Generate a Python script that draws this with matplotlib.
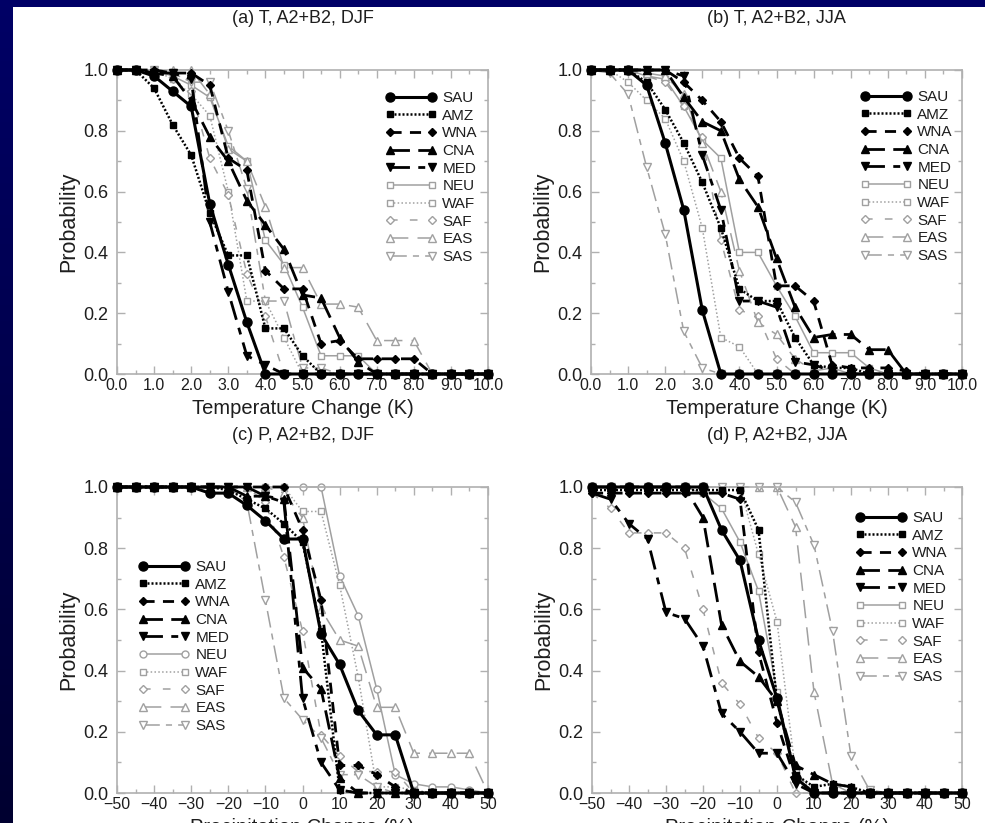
import numpy as np
import matplotlib
matplotlib.use("Agg")
import matplotlib.pyplot as plt
from matplotlib.ticker import MultipleLocator, FuncFormatter
from matplotlib.colors import LinearSegmentedColormap

plt.rcParams['font.family'] = ['Liberation Sans', 'DejaVu Sans']

regions = ["SAU", "AMZ", "WNA", "CNA", "MED", "NEU", "WAF", "SAF", "EAS", "SAS"]

temp_x = np.arange(0, 10.01, 0.5)
precip_x = np.arange(-50, 50.01, 5)

# (a) temperature, DJF
t_djf_SAU = [1, 1, 0.98, 0.93, 0.88, 0.56, 0.36, 0.17, 0, 0, 0, 0, 0, 0, 0, 0, 0, 0, 0, 0, 0]
t_djf_AMZ = [1, 1, 0.94, 0.82, 0.72, 0.53, 0.39, 0.39, 0.15, 0.15, 0.06, 0, 0, 0, 0, 0, 0, 0, 0, 0, 0]
t_djf_WNA = [1, 1, 1, 0.99, 0.99, 0.95, 0.71, 0.67, 0.34, 0.28, 0.28, 0.10, 0.11, 0.05, 0.05, 0.05, 0.05, 0, 0, 0, 0]
t_djf_CNA = [1, 1, 0.99, 0.98, 0.90, 0.78, 0.70, 0.57, 0.49, 0.41, 0.26, 0.25, 0.12, 0.04, 0, 0, 0, 0, 0, 0, 0]
t_djf_MED = [1, 1, 0.99, 0.99, 0.97, 0.50, 0.27, 0.06, 0.03, 0, 0, 0, 0, 0, 0, 0, 0, 0, 0, 0, 0]
t_djf_NEU = [1, 1, 1, 0.98, 0.95, 0.91, 0.75, 0.70, 0.44, 0.36, 0.22, 0.06, 0.06, 0.06, 0, 0, 0, 0, 0, 0, 0]
t_djf_WAF = [1, 1, 1, 0.97, 0.92, 0.85, 0.60, 0.24, 0.24, 0.12, 0, 0, 0, 0, 0, 0, 0, 0, 0, 0, 0]
t_djf_SAF = [1, 1, 1, 0.97, 0.93, 0.71, 0.59, 0.33, 0.19, 0, 0, 0, 0, 0, 0, 0, 0, 0, 0, 0, 0]
t_djf_EAS = [1, 1, 1, 1, 1, 0.92, 0.74, 0.70, 0.55, 0.35, 0.35, 0.23, 0.23, 0.22, 0.11, 0.11, 0.11, 0, 0, 0, 0]
t_djf_SAS = [1, 1, 1, 0.99, 0.96, 0.96, 0.80, 0.61, 0.24, 0.24, 0.02, 0.02, 0, 0, 0, 0, 0, 0, 0, 0, 0]

# (b) temperature, JJA
t_jja_SAU = [1, 1, 1, 0.95, 0.76, 0.54, 0.21, 0, 0, 0, 0, 0, 0, 0, 0, 0, 0, 0, 0, 0, 0]
t_jja_AMZ = [1, 1, 1, 0.96, 0.87, 0.76, 0.63, 0.48, 0.28, 0.24, 0.24, 0.12, 0.03, 0.02, 0.02, 0, 0, 0, 0, 0, 0]
t_jja_WNA = [1, 1, 1, 1, 1, 0.96, 0.90, 0.83, 0.71, 0.65, 0.29, 0.29, 0.24, 0.03, 0.02, 0.02, 0.02, 0.01, 0, 0, 0]
t_jja_CNA = [1, 1, 1, 1, 1, 0.91, 0.83, 0.80, 0.64, 0.55, 0.38, 0.22, 0.12, 0.13, 0.13, 0.08, 0.08, 0, 0, 0, 0]
t_jja_MED = [1, 1, 1, 1, 1, 0.98, 0.72, 0.54, 0.24, 0.24, 0.22, 0.04, 0.03, 0.01, 0, 0, 0, 0, 0, 0, 0]
t_jja_NEU = [1, 1, 1, 0.98, 0.97, 0.88, 0.77, 0.71, 0.40, 0.40, 0.29, 0.19, 0.07, 0.07, 0.07, 0.02, 0, 0, 0, 0, 0]
t_jja_WAF = [1, 1, 0.96, 0.90, 0.84, 0.70, 0.48, 0.12, 0.09, 0, 0, 0, 0, 0, 0, 0, 0, 0, 0, 0, 0]
t_jja_SAF = [1, 1, 1, 0.98, 0.96, 0.88, 0.78, 0.44, 0.21, 0.19, 0.05, 0, 0, 0, 0, 0, 0, 0, 0, 0, 0]
t_jja_EAS = [1, 1, 1, 0.99, 0.98, 0.92, 0.76, 0.60, 0.34, 0.17, 0.13, 0.05, 0.01, 0.02, 0, 0, 0, 0, 0, 0, 0]
t_jja_SAS = [1, 0.99, 0.92, 0.68, 0.46, 0.14, 0.02, 0, 0, 0, 0, 0, 0, 0, 0, 0, 0, 0, 0, 0, 0]

# (c) precipitation, DJF
p_djf_SAU = [1, 1, 1, 1, 1, 0.98, 0.98, 0.94, 0.89, 0.83, 0.83, 0.52, 0.42, 0.27, 0.19, 0.19, 0, 0, 0, 0, 0]
p_djf_AMZ = [1, 1, 1, 1, 1, 1, 0.99, 0.96, 0.93, 0.88, 0.82, 0.53, 0.01, 0, 0, 0, 0, 0, 0, 0, 0]
p_djf_WNA = [1, 1, 1, 1, 1, 1, 1, 1, 1, 1, 0.86, 0.63, 0.09, 0.09, 0.06, 0.02, 0, 0, 0, 0, 0]
p_djf_CNA = [1, 1, 1, 1, 1, 1, 1, 0.97, 0.97, 0.96, 0.41, 0.34, 0.05, 0, 0, 0, 0, 0, 0, 0, 0]
p_djf_MED = [1, 1, 1, 1, 1, 1, 1, 1, 0.97, 0.95, 0.31, 0.10, 0.01, 0, 0, 0, 0, 0, 0, 0, 0]
p_djf_NEU = [1, 1, 1, 1, 1, 1, 1, 1, 1, 1, 1, 1, 0.71, 0.58, 0.34, 0.06, 0.03, 0.02, 0.02, 0.01, 0]
p_djf_WAF = [1, 1, 1, 1, 1, 1, 1, 1, 1, 1, 0.92, 0.92, 0.68, 0.38, 0.02, 0.02, 0.01, 0, 0, 0, 0]
p_djf_SAF = [1, 1, 1, 1, 1, 1, 1, 1, 0.95, 0.77, 0.53, 0.19, 0.12, 0.07, 0.07, 0.07, 0, 0, 0, 0, 0]
p_djf_EAS = [1, 1, 1, 1, 1, 1, 1, 1, 1, 0.98, 0.90, 0.60, 0.50, 0.48, 0.28, 0.28, 0.13, 0.13, 0.13, 0.13, 0]
p_djf_SAS = [1, 1, 1, 1, 1, 1, 1, 0.95, 0.63, 0.31, 0.24, 0.18, 0.06, 0.06, 0.02, 0, 0, 0, 0, 0, 0]

# (d) precipitation, JJA
p_jja_SAU = [1, 1, 1, 1, 1, 1, 1, 0.86, 0.76, 0.50, 0.31, 0.05, 0, 0, 0, 0, 0, 0, 0, 0, 0]
p_jja_AMZ = [0.99, 0.99, 0.99, 0.99, 0.99, 0.99, 0.99, 0.99, 0.99, 0.86, 0.30, 0.06, 0.02, 0.03, 0.02, 0, 0, 0, 0, 0, 0]
p_jja_WNA = [0.98, 0.98, 0.98, 0.98, 0.98, 0.98, 0.98, 0.98, 0.96, 0.46, 0.23, 0.04, 0, 0, 0, 0, 0, 0, 0, 0, 0]
p_jja_CNA = [1, 1, 1, 1, 1, 1, 0.90, 0.55, 0.43, 0.38, 0.30, 0.09, 0.06, 0.03, 0.02, 0, 0, 0, 0, 0, 0]
p_jja_MED = [0.98, 0.96, 0.88, 0.83, 0.59, 0.57, 0.48, 0.26, 0.20, 0.13, 0.13, 0.03, 0, 0, 0, 0, 0, 0, 0, 0, 0]
p_jja_NEU = [1, 1, 1, 1, 1, 1, 0.98, 0.93, 0.82, 0.66, 0.33, 0.05, 0, 0, 0, 0, 0, 0, 0, 0, 0]
p_jja_WAF = [1, 1, 1, 1, 1, 1, 1, 1, 1, 0.78, 0.56, 0.07, 0, 0, 0, 0, 0, 0, 0, 0, 0]
p_jja_SAF = [0.98, 0.93, 0.85, 0.85, 0.85, 0.80, 0.60, 0.36, 0.29, 0.18, 0.13, 0, 0, 0, 0, 0, 0, 0, 0, 0, 0]
p_jja_EAS = [1, 1, 1, 1, 1, 1, 1, 1, 1, 1, 1, 0.87, 0.33, 0.03, 0, 0, 0, 0, 0, 0, 0]
p_jja_SAS = [1, 1, 1, 1, 1, 1, 1, 1, 1, 1, 1, 0.95, 0.81, 0.53, 0.12, 0.01, 0, 0, 0, 0, 0]

panel_titles = ["(a) T, A2+B2, DJF", "(b) T, A2+B2, JJA",
                "(c) P, A2+B2, DJF", "(d) P, A2+B2, JJA"]
xlabels = ["Temperature Change (K)", "Temperature Change (K)",
           "Precipitation Change (%)", "Precipitation Change (%)"]
panel_x = [temp_x, temp_x, precip_x, precip_x]
panel_series = [
    [t_djf_SAU, t_djf_AMZ, t_djf_WNA, t_djf_CNA, t_djf_MED,
     t_djf_NEU, t_djf_WAF, t_djf_SAF, t_djf_EAS, t_djf_SAS],
    [t_jja_SAU, t_jja_AMZ, t_jja_WNA, t_jja_CNA, t_jja_MED,
     t_jja_NEU, t_jja_WAF, t_jja_SAF, t_jja_EAS, t_jja_SAS],
    [p_djf_SAU, p_djf_AMZ, p_djf_WNA, p_djf_CNA, p_djf_MED,
     p_djf_NEU, p_djf_WAF, p_djf_SAF, p_djf_EAS, p_djf_SAS],
    [p_jja_SAU, p_jja_AMZ, p_jja_WNA, p_jja_CNA, p_jja_MED,
     p_jja_NEU, p_jja_WAF, p_jja_SAF, p_jja_EAS, p_jja_SAS],
]

GRAY = "#a0a0a0"
styles = [
    dict(color="black", lw=2.2, ls="-", marker="o", ms=6.5, mfc="black"),
    dict(color="black", lw=1.8, ls=(0, (0.8, 0.8)), marker="s", ms=4.5, mfc="black"),
    dict(color="black", lw=2.0, ls=(0, (4, 3)), marker="D", ms=4.5, mfc="black"),
    dict(color="black", lw=2.0, ls=(0, (7, 3)), marker="^", ms=6, mfc="black"),
    dict(color="black", lw=2.0, ls=(0, (7, 3, 2.5, 3)), marker="v", ms=6, mfc="black"),
    dict(color=GRAY, lw=1.1, ls="-", marker="s", ms=5, mfc="white"),
    dict(color=GRAY, lw=1.1, ls=(0, (1, 1.5)), marker="s", ms=5, mfc="white"),
    dict(color=GRAY, lw=1.1, ls=(0, (5, 8)), marker="D", ms=4.5, mfc="white"),
    dict(color=GRAY, lw=1.1, ls=(0, (12, 6)), marker="^", ms=5.5, mfc="white"),
    dict(color=GRAY, lw=1.1, ls=(0, (11, 4, 4, 4)), marker="v", ms=5.5, mfc="white"),
]

W, H = 985, 823
fig = plt.figure(figsize=(W / 100, H / 100), dpi=100, facecolor="white")

# navy frame strips on the left and top
strip = fig.add_axes([0, 0, 13 / W, 1])
grad = np.linspace(0, 1, 256).reshape(-1, 1)
cmap = LinearSegmentedColormap.from_list("navy", ["#000066", "#000030"])
strip.imshow(grad, aspect="auto", cmap=cmap, extent=[0, 1, 0, 1], origin="upper")
strip.axis("off")
top = fig.add_axes([0, 1 - 7 / H, 1, 7 / H])
top.set_facecolor("#000066")
top.set_xticks([]); top.set_yticks([])
for s in top.spines.values():
    s.set_visible(False)

boxes = [(117, 70, 488, 374), (591, 70, 962, 374),
         (117, 487, 488, 793), (592, 487, 962, 793)]
# top-left pixel of each legend block
legend_pos = [(385, 91), (860, 90), (138, 560), (855, 511)]

SPINE = "#b0b0b0"
TXT = "#1e1e1e"
for i in range(4):
    x0, y0, x1, y1 = boxes[i]
    xs = panel_x[i]
    ax = fig.add_axes([x0 / W, 1 - y1 / H, (x1 - x0) / W, (y1 - y0) / H])
    handles = []
    for name, vals, st in zip(regions, panel_series[i], styles):
        marker = "o" if (i == 2 and name == "NEU") else st["marker"]
        h, = ax.plot(xs, vals, color=st["color"], lw=st["lw"], ls=st["ls"],
                     marker=marker, ms=st["ms"], mfc=st["mfc"],
                     mec=st["color"], mew=1.0, label=name, clip_on=False,
                     zorder=3 if st["color"] == "black" else 2)
        handles.append(h)
    if i < 2:
        ax.set_xlim(0, 10)
        ax.xaxis.set_major_locator(MultipleLocator(1))
        ax.xaxis.set_minor_locator(MultipleLocator(0.5))
        ax.xaxis.set_major_formatter(FuncFormatter(lambda v, p: f"{v:.1f}"))
    else:
        ax.set_xlim(-50, 50)
        ax.xaxis.set_major_locator(MultipleLocator(10))
        ax.xaxis.set_minor_locator(MultipleLocator(5))
        ax.xaxis.set_major_formatter(FuncFormatter(lambda v, p: f"{v:.0f}".replace("-", "\u2212")))
    ax.set_ylim(0, 1)
    ax.yaxis.set_major_locator(MultipleLocator(0.2))
    ax.yaxis.set_minor_locator(MultipleLocator(0.1))
    ax.yaxis.set_major_formatter(FuncFormatter(lambda v, p: f"{v:.1f}"))
    ax.tick_params(which="both", direction="in", top=True, right=True,
                   color=SPINE, labelcolor=TXT)
    ax.tick_params(axis="x", labelsize=11.5, pad=3)
    ax.tick_params(axis="y", labelsize=13, pad=6)
    ax.tick_params(which="major", length=6, width=1)
    ax.tick_params(which="minor", length=3, width=1)
    for s in ax.spines.values():
        s.set_color(SPINE)
        s.set_linewidth(1.2)
    ax.set_ylabel("Probability", fontsize=15.5, color=TXT, labelpad=3)
    ax.set_xlabel(xlabels[i], fontsize=14.5, color=TXT, labelpad=4)
    ax.text(0.5, 1.0 + 52 / (y1 - y0), panel_titles[i], transform=ax.transAxes,
            ha="center", va="center", fontsize=13, color=TXT)
    lx, ly = legend_pos[i]
    leg = ax.legend(handles=handles, loc="upper left",
                    bbox_to_anchor=(lx / W, 1 - ly / H),
                    bbox_transform=fig.transFigure,
                    frameon=False, fontsize=11, handlelength=3.35,
                    handletextpad=0.4, labelspacing=0.24, borderpad=0,
                    borderaxespad=0, numpoints=2)
    for t in leg.get_texts():
        t.set_color(TXT)

fig.savefig("out.png", dpi=100, facecolor="white")
